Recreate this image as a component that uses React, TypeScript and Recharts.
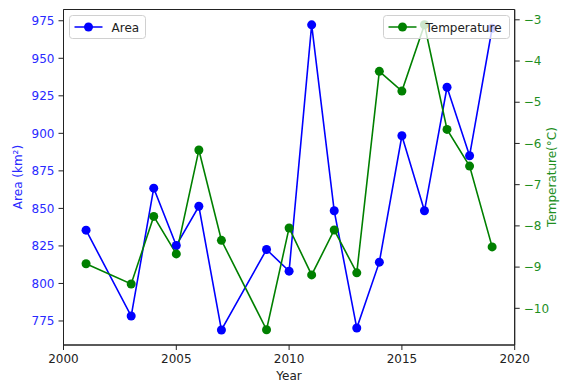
import React from 'react';
import { LineChart, Line, XAxis, YAxis, Label, ReferenceArea, Legend } from 'recharts';

const years = [2001, 2003, 2004, 2005, 2006, 2007, 2009, 2010, 2011, 2012, 2013, 2014, 2015, 2016, 2017, 2018, 2019];
const area = [835.5, 778.3, 863.5, 825.3, 851.4, 769.0, 822.6, 808.2, 972.3, 848.4, 770.3, 814.2, 898.4, 848.4, 930.7, 885.1, 970.0];
const temperature = [-8.92, -9.41, -7.77, -8.68, -6.16, -8.35, -10.52, -8.05, -9.19, -8.10, -9.14, -4.25, -4.73, -3.12, -5.66, -6.55, -8.51];
const xTicks = [2000, 2005, 2010, 2015, 2020];
const areaTicks = [775, 800, 825, 850, 875, 900, 925, 950, 975];
const tempTicks = [-10, -9, -8, -7, -6, -5, -4, -3];

const data = years.map((y, i) => ({ year: y, area: area[i], temp: temperature[i] }));

const FONT = 'DejaVu Sans, sans-serif';
const BLUE = '#0000ff';
const GREEN = '#008000';
const BLUE_TXT = '#2a2aff';
const GREEN_TXT = '#1f8f1f';
const AXIS = '#222222';

const minus = (v: number) => String(v).replace('-', '\u2212');

const LegendBox = ({ x, w, color, text }: { x: number; w: number; color: string; text: string }) => (
  <g>
    <rect x={x} y={15.5} width={w} height={23} rx={3} ry={3} fill="#ffffff" fillOpacity={0.8} stroke="#d0d0d0" strokeWidth={1} />
    <line x1={x + 5} y1={27} x2={x + 33} y2={27} stroke={color} strokeWidth={1.5} />
    <circle cx={x + 19} cy={27} r={4.5} fill={color} />
    <text x={x + 42} y={31.5} fontFamily={FONT} fontSize={12} fill="#222">{text}</text>
  </g>
);

const LegendContent = (props: any) => {
  const payload = (props && props.payload) || [];
  const find = (k: string, fallback: string) => {
    const p = payload.find((it: any) => it.dataKey === k);
    return p ? p.color || fallback : fallback;
  };
  return (
    <svg width={566} height={385} style={{ position: 'absolute', left: 0, top: 0, pointerEvents: 'none' }}>
      <LegendBox x={69.5} w={76} color={find('area', BLUE)} text="Area" />
      <LegendBox x={383.5} w={126} color={find('temp', GREEN)} text="Temperature" />
    </svg>
  );
};

export default function App() {
  return (
    <div style={{ position: 'absolute', left: 0, top: 0, background: '#fff' }}>
      <LineChart width={566} height={385} data={data} margin={{ top: 9.5, right: 6.3, bottom: 0, left: 13.5 }}>
        <XAxis
          dataKey="year"
          type="number"
          domain={[2000, 2020]}
          ticks={xTicks}
          allowDataOverflow
          height={40}
          stroke={AXIS}
          tickSize={5}
          tickMargin={4}
          tick={{ fontFamily: FONT, fontSize: 12, fill: '#222' }}
        >
          <Label
            content={() => (
              <text x={289} y={380} textAnchor="middle" fontFamily={FONT} fontSize={12} fill="#222">Year</text>
            )}
          />
        </XAxis>
        <YAxis
          yAxisId="left"
          orientation="left"
          type="number"
          domain={[759, 982.5]}
          ticks={areaTicks}
          allowDataOverflow
          width={50}
          stroke={AXIS}
          tickSize={5}
          tickMargin={4}
          tick={{ fontFamily: FONT, fontSize: 12, fill: BLUE_TXT }}
        >
          <Label
            content={() => (
              <text x={22} y={177} transform="rotate(-90 22 177)" textAnchor="middle" fontFamily={FONT} fontSize={12} fill={BLUE_TXT}>
                Area (km²)
              </text>
            )}
          />
        </YAxis>
        <YAxis
          yAxisId="right"
          orientation="right"
          type="number"
          domain={[-10.89, -2.75]}
          ticks={tempTicks}
          allowDataOverflow
          width={45}
          stroke={AXIS}
          tickSize={5}
          tickMargin={4}
          tickFormatter={minus}
          tick={{ fontFamily: FONT, fontSize: 12, fill: GREEN_TXT }}
        >
          <Label
            content={() => (
              <text x={556} y={177} transform="rotate(-90 556 177)" textAnchor="middle" fontFamily={FONT} fontSize={12} fill={GREEN_TXT}>
                Temperature(°C)
              </text>
            )}
          />
        </YAxis>
        <ReferenceArea yAxisId="left" x1={2000} x2={2020} y1={759} y2={982.5} fill="none" stroke={AXIS} strokeWidth={1} />
        <Line
          yAxisId="left"
          dataKey="area"
          name="Area"
          type="linear"
          stroke={BLUE}
          strokeWidth={1.6}
          dot={{ r: 4.5, fill: BLUE, stroke: BLUE, strokeWidth: 0 }}
          activeDot={false}
          isAnimationActive={false}
        />
        <Line
          yAxisId="right"
          dataKey="temp"
          name="Temperature"
          type="linear"
          stroke={GREEN}
          strokeWidth={1.6}
          dot={{ r: 4.5, fill: GREEN, stroke: GREEN, strokeWidth: 0 }}
          activeDot={false}
          isAnimationActive={false}
        />
        <Legend
          layout="horizontal"
          verticalAlign="middle"
          align="center"
          content={LegendContent}
          wrapperStyle={{ position: 'absolute', left: 0, top: 0, width: 566, height: 385, pointerEvents: 'none' }}
        />
      </LineChart>
    </div>
  );
}
